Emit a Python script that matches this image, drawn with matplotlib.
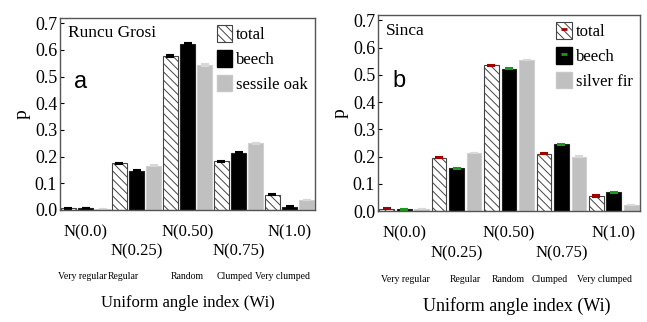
import matplotlib
matplotlib.use("Agg")
import matplotlib.pyplot as plt
import numpy as np
from matplotlib.patches import Patch
from matplotlib.lines import Line2D

plt.rcParams['hatch.linewidth'] = 0.7
plt.rcParams['hatch.color'] = '#333333'

categories = ["N(0.0)", "N(0.25)", "N(0.50)", "N(0.75)", "N(1.0)"]
classes = ["Very regular", "Regular", "Random", "Clumped", "Very clumped"]

a_total = [0.007, 0.175, 0.578, 0.183, 0.057]
a_beech = [0.007, 0.148, 0.623, 0.215, 0.012]
a_oak = [0.004, 0.166, 0.543, 0.250, 0.037]
a_err_total = [0.002, 0.003, 0.003, 0.002, 0.002]
a_err_beech = [0.001, 0.001, 0.002, 0.001, 0.002]
a_err_oak = [0.001, 0.002, 0.003, 0.002, 0.001]

b_total = [0.008, 0.195, 0.535, 0.210, 0.055]
b_beech = [0.007, 0.157, 0.523, 0.245, 0.068]
b_fir = [0.008, 0.213, 0.555, 0.200, 0.022]
b_err_total = [0.002, 0.002, 0.002, 0.002, 0.002]
b_err_beech = [0.002, 0.002, 0.002, 0.002, 0.002]
b_err_fir = [0.001, 0.001, 0.001, 0.001, 0.001]

SERIF = "Liberation Serif"
SANS = "Liberation Sans"

fig = plt.figure(figsize=(6.47, 3.22), dpi=100)
axA = fig.add_axes([60/647, (322-210)/322, (315-60)/647, (210-18)/322])
axB = fig.add_axes([378/647, (322-211)/322, (640-378)/647, (211-15)/322])

def draw(ax, vals, errs, names, errcols, legcols, site, letter, class_x, xlab_x, xlab_size):
    x = np.arange(len(categories))
    w = 0.28
    off = 0.335
    t, b, g = vals
    et, eb, eg = errs
    ax.bar(x - off, t, w, color='white', edgecolor='#444444', linewidth=0.8, hatch='\\\\\\\\')
    ax.bar(x, b, w, color='black', edgecolor='#222222', linewidth=0.8)
    ax.bar(x + off, g, w, color='#c0c0c0', edgecolor='#d0d0d0', linewidth=0.8)
    ax.errorbar(x - off, t, yerr=et, fmt='none', ecolor=errcols[0], capsize=3, elinewidth=1, capthick=1.5)
    ax.errorbar(x, b, yerr=eb, fmt='none', ecolor=errcols[1], capsize=3, elinewidth=1, capthick=1.5)
    ax.errorbar(x + off, g, yerr=eg, fmt='none', ecolor='#d8d8d8', capsize=3, elinewidth=1, capthick=1.5)
    ax.set_xlim(-0.5, len(categories) - 0.5)
    ax.set_ylim(0, 0.72)
    ticks = np.arange(0, 0.71, 0.1)
    ax.set_yticks(ticks)
    ax.set_yticklabels([f"{v:.1f}" for v in ticks], fontfamily=SERIF, fontsize=13)
    ax.tick_params(axis='y', direction='in', length=3, width=0.8, pad=2)
    ax.set_xticks([])
    for s in ax.spines.values():
        s.set_color('#555555')
        s.set_linewidth(1.0)
    ax.set_ylabel("p", fontfamily=SERIF, fontsize=14, labelpad=3)
    for i, c in enumerate(categories):
        yy = -0.083 if i % 2 == 0 else -0.157
        ax.text(x[i], yy, c, ha='center', va='center', fontfamily=SERIF, fontsize=12,
                clip_on=False)
    for i, c in enumerate(classes):
        ax.text(class_x[i], -0.25, c, ha='center', va='center', fontfamily=SERIF, fontsize=7,
                clip_on=False)
    ax.text(xlab_x, -0.485, "Uniform angle index (Wi)", ha='center', va='center',
            fontfamily=SERIF, fontsize=xlab_size, transform=ax.transAxes)
    ax.text(0.03, 0.92, site, ha='left', va='center', fontfamily=SERIF, fontsize=12.5,
            transform=ax.transAxes)
    ax.text(0.055, 0.665, letter, ha='left', va='center', fontfamily=SANS, fontsize=17,
            transform=ax.transAxes)
    handles = [
        (Patch(facecolor='white', edgecolor='#444444', hatch='\\\\\\\\', linewidth=0.8),
         Line2D([], [], color=legcols[0], marker='_', markersize=5, markeredgewidth=2, linestyle='none')),
        (Patch(facecolor='black', edgecolor='black'),
         Line2D([], [], color=legcols[1], marker='_', markersize=5, markeredgewidth=2, linestyle='none')),
        Patch(facecolor='#c0c0c0', edgecolor='#c8c8c8'),
    ]
    ax.legend(handles, names, loc='upper right', frameon=False,
              prop={'family': SERIF, 'size': 12}, handlelength=0.95, handleheight=1.15,
              handletextpad=0.2, labelspacing=0.4, borderaxespad=0.15, borderpad=0.3)

draw(axA, (a_total, a_beech, a_oak), (a_err_total, a_err_beech, a_err_oak),
     ["total", "beech", "sessile oak"], ('black', 'black'), ('none', 'none'),
     "Runcu Grosi", "a",
     [-0.07, 0.74, 1.99, 2.93, 3.87], 0.5, 12)
draw(axB, (b_total, b_beech, b_fir), (b_err_total, b_err_beech, b_err_fir),
     ["total", "beech", "silver fir"], ('#a00000', '#1a9a1a'), ('#a00000', '#1a9a1a'),
     "Sinca", "b",
     [0.015, 1.16, 1.98, 2.78, 3.83], 0.53, 13)

fig.savefig("out.png", dpi=100)
